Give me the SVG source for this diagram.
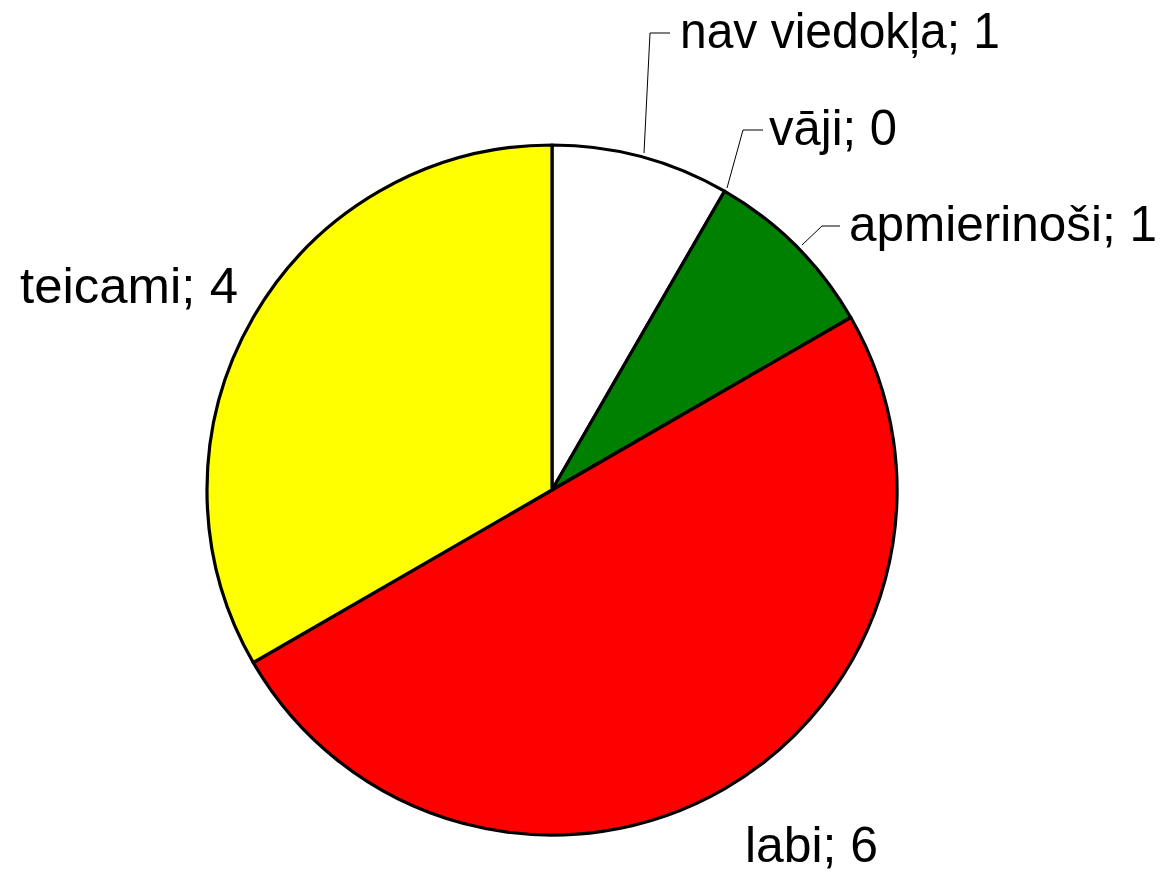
<svg xmlns="http://www.w3.org/2000/svg" width="1162" height="872" viewBox="0 0 1162 872">
<style>
.slice{stroke:#000;stroke-width:3.2;stroke-linejoin:round}
.lbl{font-family:"Liberation Sans",Arial,sans-serif;font-size:50px;fill:#000}
.lead{fill:none;stroke:#000;stroke-width:1}
</style>
<rect width="1162" height="872" fill="#fff"/>
<g id="slice-nav-viedokla"><path class="slice" fill="#fff" d="M552,490 L552,145 A345,345 0 0 1 724.5,191.2 Z"/></g>
<g id="slice-apmierinosi"><path class="slice" fill="#008000" d="M552,490 L724.5,191.2 A345,345 0 0 1 850.8,317.5 Z"/></g>
<g id="slice-labi"><path class="slice" fill="#f00" d="M552,490 L850.8,317.5 A345,345 0 0 1 253.2,662.5 Z"/></g>
<g id="slice-teicami"><path class="slice" fill="#ff0" d="M552,490 L253.2,662.5 A345,345 0 0 1 552,145 Z"/></g>
<g id="connectors">
<polyline class="lead" points="644,153 650,33 670,33"/>
<polyline class="lead" points="727,188 743,130 763,130"/>
<polyline class="lead" points="802,245 822,226 840,226"/>
</g>
<g id="labels">
<text class="lbl" x="680" y="48" textLength="320" lengthAdjust="spacingAndGlyphs">nav viedokļa; 1</text>
<text class="lbl" x="769" y="145" textLength="128" lengthAdjust="spacingAndGlyphs">vāji; 0</text>
<text class="lbl" x="849" y="241" textLength="308" lengthAdjust="spacingAndGlyphs">apmierinoši; 1</text>
<text class="lbl" x="20" y="303" textLength="218" lengthAdjust="spacingAndGlyphs">teicami; 4</text>
<text class="lbl" x="745" y="862" textLength="133" lengthAdjust="spacingAndGlyphs">labi; 6</text>
</g>
</svg>
